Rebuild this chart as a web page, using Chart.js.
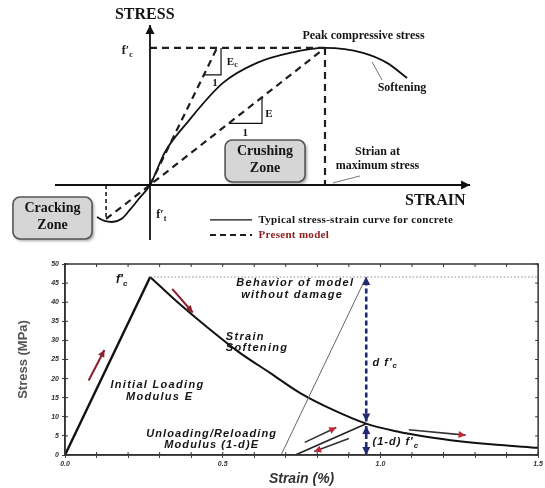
<!DOCTYPE html>
<html>
<head>
<meta charset="utf-8">
<script src="https://cdn.jsdelivr.net/npm/chart.js@4/dist/chart.umd.min.js"></script>
<style>
  html, body { margin: 0; padding: 0; background: #fff; }
  body { width: 545px; height: 488px; position: relative; overflow: hidden; }
  #topBox { position: absolute; left: 0; top: 0; width: 545px; height: 245px; }
  #bottomBox { position: absolute; left: 0; top: 245px; width: 545px; height: 243px; }
</style>
</head>
<body>
<div id="topBox"><canvas id="schemeChart"></canvas></div>
<div id="bottomBox"><canvas id="damageChart"></canvas></div>
<script>
// ---- top sketch (normalised: peak strain = 1, peak stress f'c = 1) ----
const typStrain = [-0.303, -0.26, -0.217, -0.16, -0.114, -0.06, 0, 0.086, 0.211, 0.417, 0.611, 0.8, 1.0, 1.217, 1.354, 1.469];
const typStress = [-0.234, -0.262, -0.27, -0.245, -0.18, -0.095, 0, 0.241, 0.453, 0.745, 0.891, 0.964, 1.0, 0.964, 0.891, 0.781];
const modelStrain = [-0.251, 0, 1.0];
const modelStress = [-0.248, 0, 1.0];
const tangentStrain = [0, 0.383];
const tangentStress = [0, 1.0];

// ---- bottom chart (strain %, stress MPa) ----
const loadStrain = [0, 0.27];
const loadStress = [0, 46.6];
const softStrain = [0.27, 0.35, 0.45, 0.55, 0.65, 0.75, 0.85, 0.955, 1.05, 1.15, 1.25, 1.35, 1.5];
const softStress = [46.6, 40.5, 33.5, 27.0, 21.5, 16.0, 11.8, 8.2, 6.2, 4.7, 3.6, 2.8, 1.9];
const unloadStrain = [0.73, 0.955];
const unloadStress = [0, 8.2];
const undamagedStrain = [0.685, 0.955];
const undamagedStress = [0, 46.6];
const damageStrain = 0.955;
const fcPeak = 46.6;
const residualStress = 8.2;
const xTickValues = [0, 0.5, 1.0, 1.5];
const xTickLabels = ['0.0', '0.5', '1.0', '1.5'];

const serif = '"Liberation Serif", "DejaVu Serif", serif';
const sans = '"Liberation Sans", Arial, sans-serif';

const pts = (xs, ys) => xs.map((x, i) => ({ x: x, y: ys[i] }));

function line(data, extra) {
  return Object.assign({
    data: data, borderColor: '#111', borderWidth: 1.8, pointRadius: 0,
    fill: false, tension: 0
  }, extra);
}

// arrow heads on the ends of datasets flagged with arrowEnd / arrowStart
const arrowPlugin = {
  id: 'arrows',
  afterDatasetsDraw(chart) {
    const ctx = chart.ctx;
    chart.data.datasets.forEach((ds, i) => {
      if (!ds.arrowEnd && !ds.arrowStart) return;
      const p = chart.getDatasetMeta(i).data;
      const n = p.length;
      const size = ds.arrowSize || 7;
      const head = (tip, from) => {
        const a = Math.atan2(tip.y - from.y, tip.x - from.x);
        ctx.save();
        ctx.translate(tip.x, tip.y);
        ctx.rotate(a);
        ctx.beginPath();
        ctx.moveTo(0, 0);
        ctx.lineTo(-size, -size * 0.5);
        ctx.lineTo(-size, size * 0.5);
        ctx.closePath();
        ctx.fillStyle = ds.arrowColor || ds.borderColor;
        ctx.fill();
        ctx.restore();
      };
      if (ds.arrowEnd) head(p[n - 1], p[n - 2]);
      if (ds.arrowStart) head(p[0], p[1]);
    });
  }
};

// text notes and zone boxes, placed in data units
const notes = {
  schemeChart: {
    boxes: [
      { x0: 0.429, y0: 0.328, x1: 0.886, y1: 0.022 },
      { x0: -0.783, y0: -0.088, x1: -0.331, y1: -0.394 }
    ],
    labels: [
      { text: 'STRESS', x: -0.03, y: 1.245, font: 'bold 16px ' + serif },
      { text: 'f\u2032', sub: 'c', x: -0.13, y: 0.975, font: 'bold 12px ' + serif },
      { text: 'Peak compressive stress', x: 1.22, y: 1.085, font: 'bold 12px ' + serif },
      { text: 'Softening', x: 1.44, y: 0.71, font: 'bold 12px ' + serif },
      { text: 'E', sub: 'c', x: 0.47, y: 0.9, font: 'bold 11px ' + serif },
      { text: '1', x: 0.372, y: 0.745, font: 'bold 11px ' + serif },
      { text: 'E', x: 0.68, y: 0.52, font: 'bold 11px ' + serif },
      { text: '1', x: 0.545, y: 0.38, font: 'bold 11px ' + serif },
      { text: 'Crushing', x: 0.657, y: 0.245, font: 'bold 14px ' + serif },
      { text: 'Zone', x: 0.657, y: 0.12, font: 'bold 14px ' + serif },
      { text: 'Strian at', x: 1.3, y: 0.245, font: 'bold 12px ' + serif },
      { text: 'maximum stress', x: 1.3, y: 0.14, font: 'bold 12px ' + serif },
      { text: 'STRAIN', x: 1.63, y: -0.115, font: 'bold 16px ' + serif },
      { text: 'f\u2032', sub: 't', x: 0.065, y: -0.22, font: 'bold 12px ' + serif },
      { text: 'Cracking', x: -0.557, y: -0.17, font: 'bold 14px ' + serif },
      { text: 'Zone', x: -0.557, y: -0.295, font: 'bold 14px ' + serif },
      { text: 'Typical stress-strain curve for concrete', x: 0.62, y: -0.255, align: 'left', font: 'bold 11px ' + serif, spacing: 0.3 },
      { text: 'Present model', x: 0.62, y: -0.365, align: 'left', font: 'bold 11px ' + serif, color: '#8b2020', spacing: 0.3 }
    ]
  },
  damageChart: {
    boxes: [],
    labels: [
      { text: 'f\u2032', sub: 'c', x: 0.18, y: 45.8, font: 'italic bold 12px ' + sans },
      { text: 'Behavior of model', x: 0.73, y: 45.0, font: 'italic bold 11px ' + sans, spacing: 1.3 },
      { text: 'without damage', x: 0.72, y: 41.8, font: 'italic bold 11px ' + sans, spacing: 1.3 },
      { text: 'Strain', x: 0.51, y: 30.8, align: 'left', font: 'italic bold 11px ' + sans, spacing: 1.3 },
      { text: 'Softening', x: 0.51, y: 27.9, align: 'left', font: 'italic bold 11px ' + sans, spacing: 1.3 },
      { text: 'Initial Loading', x: 0.293, y: 18.3, font: 'italic bold 11px ' + sans, spacing: 1.3 },
      { text: 'Modulus E', x: 0.3, y: 15.3, font: 'italic bold 11px ' + sans, spacing: 1.3 },
      { text: 'Unloading/Reloading', x: 0.465, y: 5.4, font: 'italic bold 11px ' + sans, spacing: 1.1 },
      { text: 'Modulus (1-d)E', x: 0.465, y: 2.5, font: 'italic bold 11px ' + sans, spacing: 1.1 },
      { text: 'd f\u2032', sub: 'c', x: 0.975, y: 24.2, align: 'left', font: 'italic bold 11px ' + sans, spacing: 1 },
      { text: '(1-d) f\u2032', sub: 'c', x: 0.975, y: 3.4, align: 'left', font: 'italic bold 11px ' + sans, spacing: 1 }
    ]
  }
};

function roundedRect(ctx, x, y, w, h, r) {
  ctx.beginPath();
  ctx.moveTo(x + r, y);
  ctx.arcTo(x + w, y, x + w, y + h, r);
  ctx.arcTo(x + w, y + h, x, y + h, r);
  ctx.arcTo(x, y + h, x, y, r);
  ctx.arcTo(x, y, x + w, y, r);
  ctx.closePath();
}

const notesPlugin = {
  id: 'notes',
  beforeDatasetsDraw(chart) {
    const n = notes[chart.canvas.id];
    const xs = chart.scales.x, ys = chart.scales.y, ctx = chart.ctx;
    n.boxes.forEach(b => {
      const x0 = xs.getPixelForValue(b.x0), x1 = xs.getPixelForValue(b.x1);
      const y0 = ys.getPixelForValue(b.y0), y1 = ys.getPixelForValue(b.y1);
      ctx.save();
      ctx.shadowColor = 'rgba(0,0,0,0.35)';
      ctx.shadowBlur = 3;
      ctx.shadowOffsetX = 2;
      ctx.shadowOffsetY = 2;
      roundedRect(ctx, x0, y0, x1 - x0, y1 - y0, 7);
      ctx.fillStyle = '#d6d6d6';
      ctx.fill();
      ctx.shadowColor = 'transparent';
      ctx.lineWidth = 1.6;
      ctx.strokeStyle = '#555';
      ctx.stroke();
      ctx.restore();
    });
  },
  afterDraw(chart) {
    const n = notes[chart.canvas.id];
    const xs = chart.scales.x, ys = chart.scales.y, ctx = chart.ctx;
    n.labels.forEach(l => {
      const px = xs.getPixelForValue(l.x), py = ys.getPixelForValue(l.y);
      const size = parseFloat(l.font.match(/(\d+)px/)[1]);
      const subFont = l.font.replace(/\d+px/, Math.round(size * 0.7) + 'px');
      ctx.save();
      ctx.textBaseline = 'middle';
      ctx.textAlign = 'left';
      ctx.letterSpacing = (l.spacing || 0) + 'px';
      ctx.fillStyle = l.color || '#151515';
      ctx.font = l.font;
      const w = ctx.measureText(l.text).width;
      let subW = 0;
      if (l.sub) {
        ctx.font = subFont;
        subW = ctx.measureText(l.sub).width;
        ctx.font = l.font;
      }
      const left = l.align === 'left' ? px : px - (w + subW) / 2;
      ctx.fillText(l.text, left, py);
      if (l.sub) {
        ctx.font = subFont;
        ctx.fillText(l.sub, left + w, py + size * 0.3);
      }
      ctx.restore();
    });
  }
};

// frame and inward ticks for the bottom plot
const framePlugin = {
  id: 'frame',
  afterDatasetsDraw(chart) {
    const a = chart.chartArea, ctx = chart.ctx;
    const xs = chart.scales.x, ys = chart.scales.y;
    ctx.save();
    ctx.strokeStyle = '#333';
    ctx.lineWidth = 1.5;
    ctx.strokeRect(a.left, a.top, a.right - a.left, a.bottom - a.top);
    ctx.lineWidth = 1;
    ctx.beginPath();
    xs.ticks.forEach(t => {
      const px = xs.getPixelForValue(t.value);
      ctx.moveTo(px, a.top); ctx.lineTo(px, a.top + 3);
      ctx.moveTo(px, a.bottom); ctx.lineTo(px, a.bottom - 3);
    });
    ys.ticks.forEach(t => {
      const py = ys.getPixelForValue(t.value);
      ctx.moveTo(a.right, py); ctx.lineTo(a.right - 3, py);
      ctx.moveTo(a.left, py); ctx.lineTo(a.left + 3, py);
    });
    ctx.stroke();
    ctx.restore();
  }
};

const dash = [7, 5];
const dark = '#1e1e1e';

const schemeChart = new Chart(document.getElementById('schemeChart').getContext('2d'), {
  type: 'line',
  data: {
    datasets: [
      // axes
      line([{ x: -0.543, y: 0 }, { x: 1.829, y: 0 }], { borderWidth: 1.8, arrowEnd: true, arrowSize: 9 }),
      line([{ x: 0, y: -0.401 }, { x: 0, y: 1.168 }], { borderWidth: 1.8, arrowEnd: true, arrowSize: 9 }),
      // reference dashes
      line([{ x: 0, y: 1 }, { x: 1, y: 1 }], { borderColor: dark, borderWidth: 2.2, borderDash: dash }),
      line([{ x: 1, y: 1 }, { x: 1, y: 0 }], { borderColor: dark, borderWidth: 2.2, borderDash: dash }),
      line([{ x: modelStrain[0], y: 0 }, { x: modelStrain[0], y: modelStress[0] }], { borderColor: dark, borderWidth: 1.6, borderDash: [4, 3] }),
      // present model + initial tangent
      line(pts(modelStrain, modelStress), { borderColor: dark, borderWidth: 2.2, borderDash: dash }),
      line(pts(tangentStrain, tangentStress), { borderColor: dark, borderWidth: 2.2, borderDash: dash }),
      // typical curve
      line(pts(typStrain, typStress), { borderColor: '#111', borderWidth: 1.8, cubicInterpolationMode: 'monotone' }),
      // slope triangles
      line([{ x: 0.307, y: 0.803 }, { x: 0.406, y: 0.803 }, { x: 0.406, y: 1.0 }], { borderWidth: 1.2 }),
      line([{ x: 0.45, y: 0.45 }, { x: 0.64, y: 0.45 }, { x: 0.64, y: 0.64 }], { borderWidth: 1.2 }),
      // leaders
      line([{ x: 1.269, y: 0.898 }, { x: 1.326, y: 0.766 }], { borderColor: '#777', borderWidth: 1 }),
      line([{ x: 1.046, y: 0.015 }, { x: 1.2, y: 0.066 }], { borderColor: '#777', borderWidth: 1 }),
      // legend samples
      line([{ x: 0.343, y: -0.255 }, { x: 0.583, y: -0.255 }], { borderWidth: 1.4 }),
      line([{ x: 0.343, y: -0.365 }, { x: 0.583, y: -0.365 }], { borderColor: dark, borderWidth: 2, borderDash: [6, 4] })
    ]
  },
  options: {
    responsive: true,
    maintainAspectRatio: false,
    animation: false,
    layout: { padding: 0 },
    plugins: { legend: { display: false }, tooltip: { enabled: false } },
    scales: {
      x: { type: 'linear', min: -0.857, max: 2.257, display: false },
      y: { type: 'linear', min: -0.438, max: 1.35, display: false }
    }
  },
  plugins: [notesPlugin, arrowPlugin]
});

const red = '#8a1f2e';
const blue = '#1f2a70';
const tickFont = { size: 7, style: 'italic', weight: 'bold', family: sans };

const damageChart = new Chart(document.getElementById('damageChart').getContext('2d'), {
  type: 'line',
  data: {
    datasets: [
      line([{ x: loadStrain[1], y: fcPeak }, { x: 1.5, y: fcPeak }], { borderColor: '#888', borderWidth: 1, borderDash: [1.5, 2] }),
      line(pts(undamagedStrain, undamagedStress), { borderColor: '#666', borderWidth: 1 }),
      line(pts(loadStrain, loadStress), { borderColor: '#111', borderWidth: 2.4 }),
      line(pts(softStrain, softStress), { borderColor: '#111', borderWidth: 2, cubicInterpolationMode: 'monotone' }),
      line(pts(unloadStrain, unloadStress), { borderColor: '#222', borderWidth: 1.6 }),
      // damage arrows
      line([{ x: damageStrain, y: residualStress + 0.6 }, { x: damageStrain, y: fcPeak }], { borderColor: blue, borderWidth: 2.6, borderDash: [5, 3], arrowEnd: true, arrowStart: true, arrowSize: 8 }),
      line([{ x: damageStrain, y: 0 }, { x: damageStrain, y: residualStress - 0.6 }], { borderColor: blue, borderWidth: 2.6, borderDash: [5, 3], arrowEnd: true, arrowStart: true, arrowSize: 8 }),
      // load-path arrows
      line([{ x: 0.075, y: 19.5 }, { x: 0.125, y: 27.5 }], { borderColor: red, borderWidth: 2, arrowEnd: true }),
      line([{ x: 0.34, y: 43.5 }, { x: 0.405, y: 37.3 }], { borderColor: red, borderWidth: 2, arrowEnd: true }),
      line([{ x: 0.76, y: 3.3 }, { x: 0.86, y: 7.2 }], { borderColor: '#333', borderWidth: 1.6, arrowEnd: true, arrowColor: '#c0283a' }),
      line([{ x: 0.9, y: 4.3 }, { x: 0.79, y: 0.9 }], { borderColor: '#333', borderWidth: 1.6, arrowEnd: true, arrowColor: '#c0283a' }),
      line([{ x: 1.09, y: 6.6 }, { x: 1.27, y: 5.2 }], { borderColor: '#333', borderWidth: 1.6, arrowEnd: true, arrowColor: '#c0283a' })
    ]
  },
  options: {
    responsive: true,
    maintainAspectRatio: false,
    animation: false,
    layout: { autoPadding: false, padding: { left: 6, right: 5, top: 19, bottom: 0 } },
    plugins: { legend: { display: false }, tooltip: { enabled: false } },
    scales: {
      x: {
        type: 'linear', min: 0, max: 1.5,
        afterBuildTicks: s => { s.ticks = [0, 0.1, 0.2, 0.3, 0.4, 0.5, 0.6, 0.7, 0.8, 0.9, 1.0, 1.1, 1.2, 1.3, 1.4, 1.5].map(v => ({ value: v })); },
        ticks: {
          autoSkip: false, maxRotation: 0, padding: 2, color: '#333', font: tickFont,
          callback: v => {
            const k = xTickValues.findIndex(t => Math.abs(t - v) < 1e-6);
            return k >= 0 ? xTickLabels[k] : '';
          }
        },
        grid: { drawOnChartArea: false, tickLength: 3, color: '#444' },
        border: { color: '#333', width: 1.5 },
        title: { display: true, text: 'Strain (%)', color: '#333', padding: { top: 2, bottom: 0 }, font: { size: 14, style: 'italic', weight: 'bold', family: sans } },
        afterFit: s => { s.height = 33; }
      },
      y: {
        type: 'linear', min: 0, max: 50,
        ticks: { stepSize: 5, padding: 3, color: '#333', font: tickFont },
        grid: { drawOnChartArea: false, tickLength: 3, color: '#444' },
        border: { color: '#333', width: 1.5 },
        title: { display: true, text: 'Stress (MPa)', color: '#555', padding: { top: 10, bottom: 0 }, font: { size: 13, weight: 'bold', family: sans } },
        afterFit: s => { s.width = 59; }
      }
    }
  },
  plugins: [notesPlugin, arrowPlugin, framePlugin]
});
</script>
</body>
</html>
